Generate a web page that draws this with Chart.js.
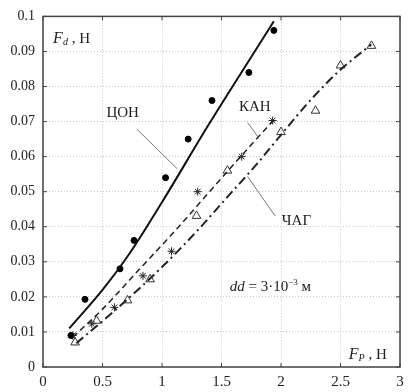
<!DOCTYPE html>
<html>
<head>
<meta charset="utf-8">
<script src="https://cdn.jsdelivr.net/npm/chart.js@4"></script>
<style>
  html, body { margin: 0; padding: 0; background: #fff; }
  #wrap { width: 413px; height: 392px; }
</style>
</head>
<body>
<div id="wrap"><canvas id="myChart" width="413" height="392"></canvas></div>
<script>
// ЦОН - measured points and fitted curve
const conPtsX = [0.235, 0.353, 0.647, 0.765, 1.03, 1.22, 1.42, 1.73, 1.94];
const conPtsY = [0.009, 0.0193, 0.028, 0.0361, 0.054, 0.065, 0.076, 0.084, 0.096];
const conLineX = [0.22, 0.5, 0.73, 1.0, 1.39, 1.94];
const conLineY = [0.011, 0.022, 0.0325, 0.047, 0.069, 0.0986];

// КАН
const kanPtsX = [0.25, 0.41, 0.6, 0.84, 1.08, 1.3, 1.67, 1.93];
const kanPtsY = [0.009, 0.0123, 0.017, 0.026, 0.033, 0.05, 0.06, 0.0703];
const kanLineX = [0.25, 0.5, 0.8, 1.1, 1.4, 1.7, 1.94];
const kanLineY = [0.0085, 0.0165, 0.0275, 0.0385, 0.05, 0.0615, 0.0705];

// ЧАГ
const chagPtsX = [0.27, 0.45, 0.71, 0.9, 1.29, 1.55, 2.0, 2.29, 2.5, 2.76];
const chagPtsY = [0.007, 0.0132, 0.019, 0.025, 0.0431, 0.056, 0.067, 0.0731, 0.086, 0.0916];
const chagLineX = [0.28, 0.6, 1.0, 1.3, 1.55, 1.8, 2.0, 2.25, 2.5, 2.76];
const chagLineY = [0.0068, 0.016, 0.0285, 0.039, 0.0485, 0.058, 0.0662, 0.0762, 0.0848, 0.092];

const xTicks = [0, 0.5, 1, 1.5, 2, 2.5, 3];
const yTicks = [0, 0.01, 0.02, 0.03, 0.04, 0.05, 0.06, 0.07, 0.08, 0.09, 0.1];

function pts(xs, ys) {
  return xs.map((x, i) => ({ x: x, y: ys[i] }));
}

const SERIF = "'Liberation Serif', 'DejaVu Serif', serif";

// frame, inner ticks and text labels
const decorPlugin = {
  id: "decor",
  afterDatasetsDraw(chart) {
    const ctx = chart.ctx;
    const a = chart.chartArea;
    const sx = chart.scales.x;
    const sy = chart.scales.y;
    ctx.save();

    ctx.strokeStyle = "#444";
    ctx.lineWidth = 1;
    ctx.beginPath();
    xTicks.forEach((v) => {
      const px = sx.getPixelForValue(v);
      ctx.moveTo(px, a.bottom); ctx.lineTo(px, a.bottom - 4);
      ctx.moveTo(px, a.top); ctx.lineTo(px, a.top + 4);
    });
    yTicks.forEach((v) => {
      const py = sy.getPixelForValue(v);
      ctx.moveTo(a.left, py); ctx.lineTo(a.left + 4, py);
      ctx.moveTo(a.right, py); ctx.lineTo(a.right - 4, py);
    });
    ctx.stroke();

    ctx.lineWidth = 1.5;
    ctx.strokeRect(a.left, a.top, a.right - a.left, a.bottom - a.top);

    // pointer lines
    ctx.strokeStyle = "#777";
    ctx.lineWidth = 1;
    const pointers = [
      [0.79, 0.0678, 1.126, 0.0566],
      [1.72, 0.0697, 1.81, 0.0655],
      [1.72, 0.0543, 1.95, 0.0431],
    ];
    ctx.beginPath();
    pointers.forEach((p) => {
      ctx.moveTo(sx.getPixelForValue(p[0]), sy.getPixelForValue(p[1]));
      ctx.lineTo(sx.getPixelForValue(p[2]), sy.getPixelForValue(p[3]));
    });
    ctx.stroke();

    ctx.fillStyle = "#222";
    ctx.textBaseline = "middle";
    ctx.textAlign = "center";
    ctx.font = "15px " + SERIF;
    ctx.fillText("ЦОН", sx.getPixelForValue(0.67), sy.getPixelForValue(0.0725));
    ctx.fillText("КАН", sx.getPixelForValue(1.78), sy.getPixelForValue(0.0742));
    ctx.fillText("ЧАГ", sx.getPixelForValue(2.13), sy.getPixelForValue(0.0417));

    // runs of text: [text, font, dy]
    function runs(list, x, y) {
      ctx.textAlign = "left";
      list.forEach((r) => {
        ctx.font = r[1];
        ctx.fillText(r[0], x, y + (r[2] || 0));
        x += ctx.measureText(r[0]).width;
      });
    }
    runs([
      ["dd", "italic 15px " + SERIF],
      [" = 3·10", "15px " + SERIF],
      ["−3", "9px " + SERIF, -5],
      [" м", "15px " + SERIF],
    ], sx.getPixelForValue(1.57), sy.getPixelForValue(0.0227));
    runs([
      ["F", "italic 16px " + SERIF],
      ["d", "italic 10px " + SERIF, 3],
      [" , Н", "15px " + SERIF],
    ], sx.getPixelForValue(0.085), sy.getPixelForValue(0.0935));
    runs([
      ["F", "italic 16px " + SERIF],
      ["P", "italic 10px " + SERIF, 3],
      [" , Н", "15px " + SERIF],
    ], sx.getPixelForValue(2.57), sy.getPixelForValue(0.0034));
    ctx.restore();
  },
};

const ctx = document.getElementById("myChart").getContext("2d");
new Chart(ctx, {
  type: "scatter",
  data: {
    datasets: [
      {
        label: "ЦОН",
        data: pts(conLineX, conLineY),
        showLine: true,
        borderColor: "#111",
        borderWidth: 2,
        pointRadius: 0,
        cubicInterpolationMode: "monotone",
      },
      {
        label: "КАН",
        data: pts(kanLineX, kanLineY),
        showLine: true,
        borderColor: "#222",
        borderWidth: 1.5,
        borderDash: [6, 4],
        pointRadius: 0,
        cubicInterpolationMode: "monotone",
      },
      {
        label: "ЧАГ",
        data: pts(chagLineX, chagLineY),
        showLine: true,
        borderColor: "#222",
        borderWidth: 2,
        borderDash: [9, 4, 2, 4],
        pointRadius: 0,
        cubicInterpolationMode: "monotone",
      },
      {
        label: "ЦОН pts",
        data: pts(conPtsX, conPtsY),
        pointStyle: "circle",
        pointRadius: 3,
        backgroundColor: "#000",
        borderColor: "#000",
      },
      {
        label: "КАН pts",
        data: pts(kanPtsX, kanPtsY),
        pointStyle: "star",
        pointRadius: 4,
        borderWidth: 1,
        borderColor: "#222",
        backgroundColor: "#222",
      },
      {
        label: "ЧАГ pts",
        data: pts(chagPtsX, chagPtsY),
        pointStyle: "triangle",
        pointRadius: 5,
        borderWidth: 1,
        borderColor: "#333",
        backgroundColor: "rgba(255,255,255,0)",
      },
    ],
  },
  options: {
    responsive: false,
    animation: false,
    layout: { padding: { left: 0, right: 13, top: 10, bottom: 0 } },
    plugins: {
      legend: { display: false },
      tooltip: { enabled: false },
    },
    scales: {
      x: {
        type: "linear",
        min: 0,
        max: 3,
        afterFit: (s) => { s.height = 25; },
        afterBuildTicks: (s) => { s.ticks = xTicks.map((v) => ({ value: v })); },
        grid: { color: "#c8c8c8", drawTicks: false },
        border: { display: false, dash: [1, 2] },
        ticks: {
          padding: 6,
          color: "#222",
          font: { family: SERIF, size: 15 },
          callback: (v) => String(v),
        },
      },
      y: {
        type: "linear",
        min: 0,
        max: 0.1,
        afterFit: (s) => { s.width = 43; },
        afterBuildTicks: (s) => { s.ticks = yTicks.map((v) => ({ value: v })); },
        grid: { color: "#c8c8c8", drawTicks: false },
        border: { display: false, dash: [1, 2] },
        ticks: {
          padding: 8,
          color: "#222",
          font: { family: SERIF, size: 14 },
          callback: (v) => String(+v.toFixed(2)),
        },
      },
    },
  },
  plugins: [decorPlugin],
});
</script>
</body>
</html>
